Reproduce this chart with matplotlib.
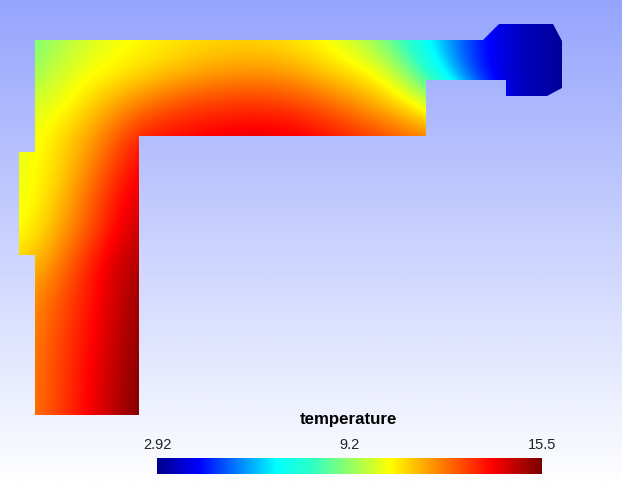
import numpy as np
import matplotlib
matplotlib.use('Agg')
import matplotlib.pyplot as plt
from matplotlib.colors import LinearSegmentedColormap
from matplotlib.patches import Polygon

# sample positions of the temperature readings, in picture pixels
grid_x = [20, 60, 100, 140, 180, 220, 260, 300, 340, 380, 420, 460, 500, 540, 580]
grid_y = [40, 72, 104, 136, 168, 200, 232, 264, 296, 328, 360, 392, 424]

# temperature, one list per row
t_040 = [8.6, 9.5, 10.2, 10.55, 10.8, 11.0, 11.0, 10.75, 10.15, 9.1, 7.1, 5.3, 3.9, 3.3, 2.95]
t_072 = [9.0, 10.0, 10.5, 10.9, 11.4, 11.8, 11.9, 11.6, 10.95, 10.4, 8.3, 5.3, 3.9, 3.3, 2.95]
t_104 = [9.9, 10.3, 11.3, 12.2, 12.9, 13.1, 13.2, 12.95, 12.3, 11.5, 10.5, 8.0, 3.9, 3.3, 2.95]
t_136 = [10.1, 10.9, 12.0, 13.5, 13.7, 14.0, 14.1, 13.95, 13.45, 12.9, 12.25, 12.0, 3.9, 3.3, 2.95]
t_168 = [10.2, 11.0, 12.5, 14.0, 14.2, 14.5, 14.6, 14.5, 14.0, 13.5, 13.0, 13.0, 3.9, 3.3, 2.95]
t_200 = [10.2, 11.3, 13.0, 14.4, 14.4, 14.4, 14.4, 14.4, 14.4, 14.4, 14.4, 14.0, 3.9, 3.3, 2.95]
t_232 = [10.3, 11.7, 13.2, 14.7, 14.7, 14.7, 14.7, 14.7, 14.7, 14.7, 14.7, 14.0, 3.9, 3.3, 2.95]
t_264 = [11.0, 12.2, 13.9, 15.0, 15.0, 15.0, 15.0, 15.0, 15.0, 15.0, 15.0, 14.0, 3.9, 3.3, 2.95]
t_296 = [11.6, 12.7, 13.9, 15.2, 15.2, 15.2, 15.2, 15.2, 15.2, 15.2, 15.2, 14.0, 3.9, 3.3, 2.95]
t_328 = [11.8, 12.9, 14.0, 15.3, 15.3, 15.3, 15.3, 15.3, 15.3, 15.3, 15.3, 14.0, 3.9, 3.3, 2.95]
t_360 = [11.9, 13.0, 14.1, 15.4, 15.4, 15.4, 15.4, 15.4, 15.4, 15.4, 15.4, 14.0, 3.9, 3.3, 2.95]
t_392 = [12.0, 13.0, 14.2, 15.5, 15.5, 15.5, 15.5, 15.5, 15.5, 15.5, 15.5, 14.0, 3.9, 3.3, 2.95]
t_424 = [12.0, 13.1, 14.2, 15.5, 15.5, 15.5, 15.5, 15.5, 15.5, 15.5, 15.5, 14.0, 3.9, 3.3, 2.95]

# outline of the part
outline_x = [35, 483, 499, 553, 562, 562, 547, 506, 506, 426, 426, 139, 139, 35, 35, 19, 19, 35]
outline_y = [40, 40, 24, 24, 41, 88, 96, 96, 80, 80, 136, 136, 415, 415, 255, 255, 152, 152]

t_min = 2.92
t_max = 15.5
bar_ticks = [2.92, 9.2, 15.5]
bar_labels = ['2.92', '9.2', '15.5']

plt.rcParams['font.family'] = ['Liberation Sans', 'DejaVu Sans']

field = np.array([t_040, t_072, t_104, t_136, t_168, t_200, t_232, t_264, t_296, t_328, t_360, t_392, t_424])

cmap = LinearSegmentedColormap.from_list('temp', [
    (0.0, '#00008c'), (0.11, '#0000ff'), (0.31, '#00ffff'), (0.40, '#2bffc8'),
    (0.605, '#ffff00'), (0.87, '#ff0000'), (1.0, '#780000')], N=512)
bg_cmap = LinearSegmentedColormap.from_list('bg', ['#94a4fd', '#ffffff'])

fig = plt.figure(figsize=(6.22, 4.86), dpi=100)
ax = fig.add_axes([0, 0, 1, 1])
# two row image, row centres on the top and bottom edge of the picture
ax.imshow([[0], [1]], cmap=bg_cmap, extent=[0, 622, 486 + 243, -243], aspect='auto', interpolation='bilinear')

dx = grid_x[1] - grid_x[0]
dy = grid_y[1] - grid_y[0]
im = ax.imshow(field, cmap=cmap, vmin=t_min, vmax=t_max, aspect='auto', interpolation='bicubic',
               extent=[grid_x[0] - dx / 2, grid_x[-1] + dx / 2, grid_y[-1] + dy / 2, grid_y[0] - dy / 2])
part = Polygon(np.column_stack([outline_x, outline_y]), closed=True, transform=ax.transData, fc='none', ec='none')
ax.add_patch(part)
im.set_clip_path(part)

ax.set_xlim(0, 622)
ax.set_ylim(486, 0)
ax.axis('off')

# colour bar, 157-542 x 458-474 px
cax = fig.add_axes([157 / 622, 1 - 474 / 486, 385 / 622, 16 / 486])
cb = fig.colorbar(im, cax=cax, orientation='horizontal')
cb.outline.set_visible(False)
cax.xaxis.set_ticks_position('top')
cax.set_xticks(bar_ticks, bar_labels, fontsize=10.5, color='#222222')
cax.tick_params(length=0, pad=4.5)
fig.text(348.5 / 622, 1 - 419 / 486, 'temperature', ha='center', va='center', fontsize=12.2, fontweight='bold', color='black')

fig.savefig('out.png', dpi=100)
